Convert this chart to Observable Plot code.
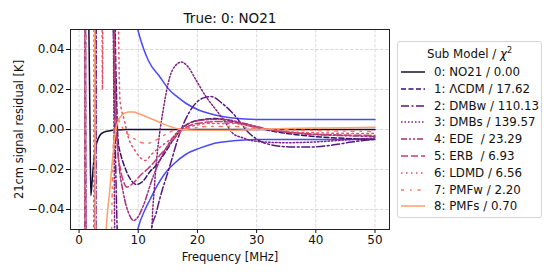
<!DOCTYPE html>
<html><head><meta charset="utf-8">
<script src="https://cdn.jsdelivr.net/npm/d3@7"></script>
<script src="https://cdn.jsdelivr.net/npm/@observablehq/plot@0.6"></script>
<style>
body{margin:0;background:#fff;font-family:"DejaVu Sans",sans-serif;}
#wrap{position:relative;width:556px;height:278px;overflow:hidden;}
#legend{position:absolute;left:397px;top:41px;width:145px;height:177px;border:1px solid #d4d4d4;border-radius:3px;box-sizing:border-box;background:#fff;font-size:11.8px;color:#111;}
#legend .ttl{position:absolute;left:0;width:100%;text-align:center;top:4px;white-space:pre;}
#legend .row{position:absolute;left:0;height:16px;line-height:16px;white-space:pre;}
#legend svg{position:absolute;left:3px;top:0;}
#legend .lab{position:absolute;left:36px;top:0;}
</style></head><body><div id="wrap"><div id="chart"></div><div id="legend"></div></div>
<script>
// ---- data (frequency MHz, residual K) ----
const xTicks = [0, 10, 20, 30, 40, 50];
const yTicks = [-0.04, -0.02, 0, 0.02, 0.04];
const title = "True: 0: NO21";
const legendTitle = "Sub Model / <i>χ</i><sup style='font-size:8px'>2</sup>";
const labels = ["0: NO21 / 0.00", "1: ΛCDM / 17.62", "2: DMBw / 110.13", "3: DMBs / 139.57", "4: EDE  / 23.29", "5: ERB  / 6.93", "6: LDMD / 6.56", "7: PMFw / 2.20", "8: PMFs / 0.70"];

const s0 = [[1.0,0.2],[1.55,0.07],[1.7,0.04],[1.85,0.0],[1.98,-0.033],[2.2,-0.026],[2.45,-0.017],[2.7,-0.0105],[3.0,-0.0065],[3.5,-0.003],[4.2,-0.0013],[5.2,-0.0006],[6.5,-0.0002],[8,0],[20,0],[50,0]];
const s1 = [[1.0,-0.12],[1.15,0.12],[5.9,0.12],[6.1,0.05],[6.3,0.02],[6.6,-0.006],[7.0,-0.012],[7.5,-0.017],[8.5,-0.024],[9.7,-0.0275],[10.8,-0.0258],[12.0,-0.021],[12.8,-0.0186],[14.8,-0.0103],[16.4,-0.003],[18,0.002],[20,0.0045],[23,0.0055],[26,0.004],[30,0.001],[33,-0.001],[38,-0.003],[44,-0.0043],[50,-0.005]];
const s2 = [[1.0,0.12],[1.25,-0.12],[2.8,-0.12],[2.95,0.12],[5.5,0.12],[5.8,0.05],[6.2,-0.02],[6.6,-0.07],[7,-0.12],[11.2,-0.1],[12.2,-0.05],[13.0,-0.042],[13.6,-0.035],[15.3,-0.0186],[17,-0.002],[19.2,0.0113],[21,0.0158],[22.3,0.0165],[24,0.0135],[26,0.008],[28.8,-0.002],[31.6,-0.007],[35.5,-0.0087],[38.9,-0.0088],[42.8,-0.0078],[46,-0.0063],[50,-0.0048]];
const s3 = [[1.0,-0.12],[1.1,0.12],[5.6,0.12],[5.9,0.0],[6.2,-0.12],[11.8,-0.12],[12.3,-0.05],[12.7,-0.03],[13.1,-0.0153],[13.6,-0.002],[14.2,0.0096],[15.3,0.026],[16.3,0.032],[17.3,0.0337],[18.5,0.031],[19.8,0.0245],[21.5,0.0162],[23.2,0.0096],[24.6,0.004],[26,-0.002],[27.5,-0.004],[28.8,-0.0053],[31.6,-0.0063],[35,-0.0066],[40,-0.0062],[45,-0.0052],[50,-0.0042]];
const s4 = [[1.0,0.12],[1.3,-0.12],[2.6,-0.12],[2.8,0.12],[5.8,0.12],[6.1,0.03],[6.6,-0.012],[7.5,-0.032],[8.4,-0.042],[9.2,-0.0455],[10.0,-0.0435],[10.8,-0.0385],[12.5,-0.0236],[14.2,-0.012],[16.4,-0.002],[18,0.0022],[21,0.0048],[24,0.0052],[28,0.003],[32,0],[38,-0.0022],[44,-0.003],[50,-0.0035]];
const s5 = [[1.0,-0.12],[1.2,0.12],[5.6,0.12],[6.0,0.02],[6.5,-0.01],[7.0,-0.02],[7.5,-0.026],[8.1,-0.0288],[9.0,-0.0272],[10.5,-0.0225],[11.7,-0.0194],[13.9,-0.012],[15.9,-0.0053],[17,-0.0012],[18,0.001],[21,0.0035],[24,0.004],[28,0.0025],[32,0],[38,-0.002],[44,-0.0027],[50,-0.003]];
const s6 = [[1.0,0.12],[1.2,-0.12],[2.4,-0.12],[2.6,0.12],[3.8,0.12],[3.95,0.02],[4.1,0.12],[6.3,0.12],[6.9,0.015],[7.7,0.004],[8.3,-0.0037],[9.4,-0.0103],[10.5,-0.0145],[11.2,-0.0155],[12.2,-0.0125],[14.5,-0.007],[16.4,-0.0028],[18,0.0005],[22,0.003],[26,0.003],[30,0.001],[35,-0.001],[42,-0.0018],[50,-0.002]];
const s7 = [[1.0,-0.12],[1.15,0.12],[2.7,0.12],[2.9,-0.12],[5.2,-0.12],[5.6,-0.03],[5.9,0.0],[6.3,0.006],[6.8,0.004],[7.5,0.0],[8.5,-0.003],[9.4,-0.0048],[10.5,-0.0065],[11.5,-0.007],[12.5,-0.006],[13.9,-0.0037],[15.5,-0.001],[16.5,0],[18,0.0003],[22,0.0015],[26,0.0015],[30,0.0005],[40,-0.0005],[50,-0.001]];
const s8 = [[1.0,0.12],[2.5,0.12],[2.7,0.0],[2.85,-0.12],[4.0,-0.12],[4.5,-0.055],[5.2,-0.030],[5.8,-0.0103],[6.3,0.0013],[7.2,0.0071],[8.3,0.0088],[9.3,0.0087],[10,0.008],[11.5,0.0062],[12.8,0.0046],[14.2,0.0028],[15.6,0.0013],[17.3,0.0],[20,-0.0004],[25,-0.0004],[30,0.0],[35,0.0005],[42,0.0008],[50,0.0011]];
const errUpper = [[9.0,0.062],[9.5,0.055],[10,0.049],[11.7,0.0345],[13.6,0.0265],[15.3,0.0196],[16.4,0.0168],[18.1,0.013],[20.4,0.0095],[22,0.008],[24,0.0066],[26,0.0057],[28,0.0052],[30,0.005],[50,0.005]];
const errLower = [[9.0,-0.064],[9.5,-0.056],[10,-0.049],[11,-0.041],[12,-0.035],[13.1,-0.0286],[14.5,-0.022],[15.9,-0.0175],[18,-0.0125],[20.4,-0.0093],[22.5,-0.0072],[25,-0.006],[28,-0.0052],[31,-0.005],[50,-0.005]];

const series = [s0, s1, s2, s3, s4, s5, s6, s7, s8];
const colors = d3.range(9).map(i => d3.interpolateMagma(0.1 + i * 0.0875));
const dashes = [null, "5,2.5", "8,2.5,2,2.5", "1.5,2", "6,2,2,2,2,2", "7,3", "1.5,3.5", "3,6,1.5,6", null];
const blue = "#4a4af6";

const lineMarks = series.map((s, i) => Plot.line(s, {
  x: d => d[0], y: d => d[1], stroke: colors[i], strokeWidth: 1.5,
  strokeDasharray: dashes[i] || undefined, curve: "monotone-x", clip: true
}));

const chart = Plot.plot({
  width: 556, height: 278,
  marginLeft: 70, marginRight: 167, marginTop: 29, marginBottom: 49,
  style: {fontFamily: "DejaVu Sans, sans-serif", fontSize: "12px", background: "white", color: "#111"},
  x: {domain: [-1.45, 52.45]},
  y: {domain: [-0.05, 0.05]},
  marks: [
    Plot.gridX(xTicks, {stroke: "#b0b0b0", strokeOpacity: 0.45, strokeDasharray: "3.5,1.5"}),
    Plot.gridY(yTicks, {stroke: "#b0b0b0", strokeOpacity: 0.45, strokeDasharray: "3.5,1.5"}),
    Plot.line(errUpper, {x: d => d[0], y: d => d[1], stroke: blue, strokeWidth: 1.5, curve: "monotone-x", clip: true}),
    Plot.line(errLower, {x: d => d[0], y: d => d[1], stroke: blue, strokeWidth: 1.5, curve: "monotone-x", clip: true}),
    ...lineMarks,
    Plot.frame({stroke: "#222", strokeWidth: 1}),
    Plot.axisX(xTicks, {tickSize: 4, tickPadding: 2, fontSize: 12, label: null, tickFormat: d => String(d)}),
    Plot.axisY(yTicks, {tickSize: 4, tickPadding: 2, fontSize: 12, label: null, tickFormat: d3.format(".2f")}),
    Plot.text([title], {text: d => d, frameAnchor: "top", textAnchor: "middle", lineAnchor: "middle", dy: -11, fontSize: 13.5}),
    Plot.text(["Frequency [MHz]"], {text: d => d, frameAnchor: "bottom", textAnchor: "middle", lineAnchor: "middle", dy: 27.5, fontSize: 11.5}),
    Plot.text(["21cm signal residual [K]"], {text: d => d, frameAnchor: "left", textAnchor: "middle", lineAnchor: "middle", dx: -51, rotate: -90, fontSize: 11.5})
  ]
});
document.getElementById("chart").appendChild(chart);

// legend
const lg = document.getElementById("legend");
const t = document.createElement("div");
t.className = "ttl"; t.innerHTML = legendTitle; lg.appendChild(t);
labels.forEach((lab, i) => {
  const row = document.createElement("div");
  row.className = "row";
  row.style.top = (71 - 41 - 8 + i * 16.8) + "px";
  row.style.width = "140px";
  const da = dashes[i] ? `stroke-dasharray="${dashes[i]}"` : "";
  row.innerHTML = `<svg width="26" height="16"><line x1="0" x2="24" y1="8" y2="8" stroke="${colors[i]}" stroke-width="1.5" ${da}/></svg><span class="lab">${lab}</span>`;
  lg.appendChild(row);
});
</script></body></html>
